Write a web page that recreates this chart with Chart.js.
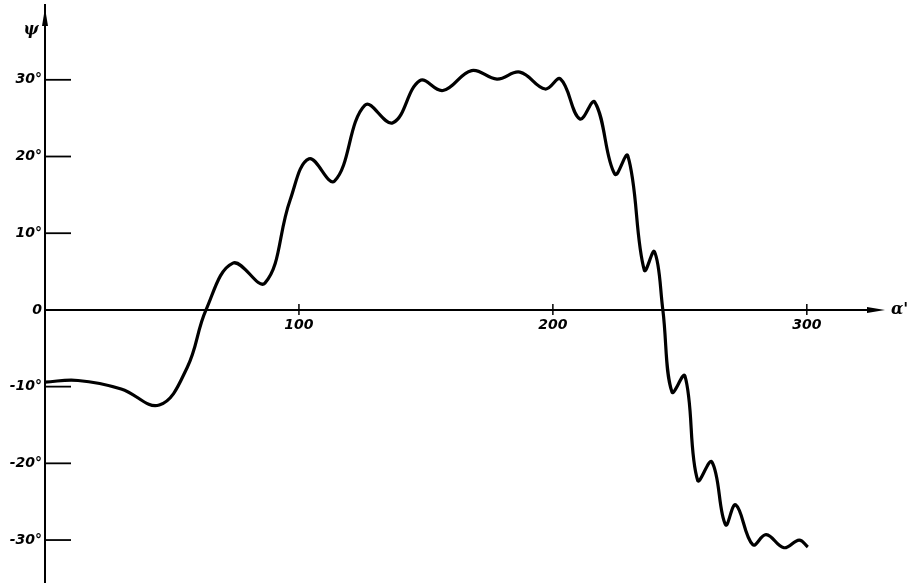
<!DOCTYPE html>
<html>
<head>
<meta charset="utf-8">
<script src="https://cdn.jsdelivr.net/npm/chart.js@4"></script>
<style>
  html, body { margin: 0; padding: 0; background: #fff; }
  #wrap { width: 914px; height: 583px; }
</style>
</head>
<body>
<div id="wrap"><canvas id="phi_chart"></canvas></div>
<script>
// Angle alpha' (x) and psi in degrees (y)
const alpha = [0, 13, 30, 45, 56, 63.4, 74, 86.6, 96.5, 104, 114, 126, 137, 147.6, 156.7, 168, 178, 187, 197, 203,
  210.6, 216.5, 224.4, 229.5, 236, 240, 243.3, 246.9, 252, 257, 262.6, 268, 272, 278.7, 284, 291, 297, 300.4];
const psi = [-9.4, -9.2, -10.3, -12.4, -7.5, 0, 6.1, 3.5, 14.3, 19.7, 16.8, 26.7, 24.4, 29.9, 28.6, 31.2, 30.1, 31.0, 28.8, 30.1,
  24.9, 27.1, 17.7, 20.1, 5.2, 7.6, 0, -10.7, -8.6, -22.2, -19.8, -28, -25.4, -30.6, -29.3, -31, -30, -30.9];

// Axis ticks and their labels
const yTicks = [30, 20, 10, 0, -10, -20, -30];
const yTickLabels = ['30°', '20°', '10°', '0', '-10°', '-20°', '-30°'];
const xTicks = [100, 200, 300];
const xTickLabels = ['100', '200', '300'];

const points = alpha.map((a, i) => ({ x: a, y: psi[i] }));

// Draw the hand-style axes through zero
const axesPlugin = {
  id: 'axes',
  afterDraw(chart) {
    const c = chart.ctx;
    const xs = chart.scales.x, ys = chart.scales.y;
    const x0 = xs.getPixelForValue(0);
    const y0 = ys.getPixelForValue(0);
    c.save();
    c.strokeStyle = '#000';
    c.fillStyle = '#000';

    // y axis
    c.lineWidth = 2;
    c.beginPath();
    c.moveTo(x0, 4);
    c.lineTo(x0, chart.height);
    c.stroke();
    c.beginPath();
    c.moveTo(x0, 8);
    c.lineTo(x0 - 3, 26);
    c.lineTo(x0 + 3, 26);
    c.closePath();
    c.fill();

    // x axis
    c.beginPath();
    c.moveTo(x0, y0);
    c.lineTo(xs.right - 4, y0);
    c.stroke();
    c.beginPath();
    c.moveTo(xs.right + 2, y0);
    c.lineTo(xs.right - 16, y0 - 3);
    c.lineTo(xs.right - 16, y0 + 3);
    c.closePath();
    c.fill();

    c.font = 'italic bold 14px "DejaVu Sans"';
    // y ticks on the inside of the axis
    c.lineWidth = 1.8;
    c.textAlign = 'right';
    c.textBaseline = 'middle';
    yTicks.forEach((v, i) => {
      const py = ys.getPixelForValue(v);
      if (v !== 0) {
        c.beginPath();
        c.moveTo(x0, py);
        c.lineTo(x0 + 26, py);
        c.stroke();
      }
      c.fillText(yTickLabels[i], x0 - 3, py);
    });

    // x ticks
    c.textAlign = 'center';
    c.textBaseline = 'top';
    c.lineWidth = 1.5;
    xTicks.forEach((v, i) => {
      const px = xs.getPixelForValue(v);
      c.beginPath();
      c.moveTo(px, y0 - 6);
      c.lineTo(px, y0 + 5);
      c.stroke();
      c.fillText(xTickLabels[i], px, y0 + 8);
    });

    // axis names
    c.font = 'italic bold 16px "DejaVu Serif"';
    c.textAlign = 'center';
    c.textBaseline = 'middle';
    c.fillText('ψ', x0 - 14, 30);
    c.textAlign = 'left';
    c.fillText('α\'', xs.right + 8, y0);
    c.restore();
  }
};

const ctx = document.getElementById('phi_chart').getContext('2d');

const myChart = new Chart(ctx, {
  type: 'line',
  data: {
    datasets: [{
      data: points,
      borderColor: '#000',
      borderWidth: 3.2,
      pointRadius: 0,
      fill: false,
      tension: 0.4
    }]
  },
  options: {
    responsive: true,
    maintainAspectRatio: false,
    animation: false,
    layout: { padding: { left: 45, right: 31, top: 10, bottom: 0 } },
    plugins: { legend: { display: false }, tooltip: { enabled: false } },
    scales: {
      x: { type: 'linear', min: 0, max: 330, display: false },
      y: { min: -35.6, max: 39.1, display: false }
    }
  },
  plugins: [axesPlugin]
});
</script>
</body>
</html>
